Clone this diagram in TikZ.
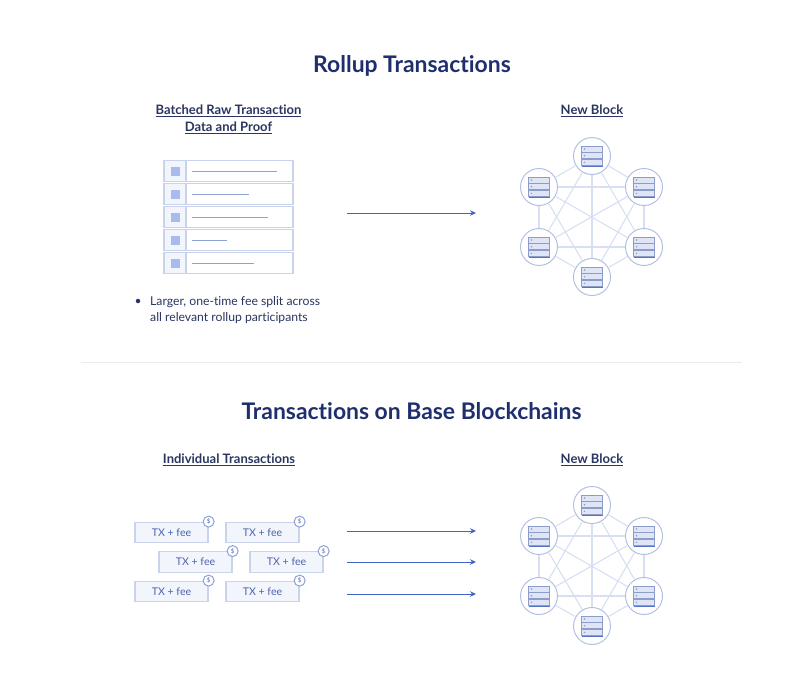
\documentclass[tikz,border=0pt]{standalone}
\usepackage{fontspec}
\setmainfont{Lato}[Ligatures={NoCommon,TeX}]
\usetikzlibrary{arrows.meta,backgrounds}
\definecolor{navy}{HTML}{1F2F6E}
\definecolor{ink}{HTML}{2A3560}
\definecolor{pale}{HTML}{F3F5FC}
\definecolor{edge}{HTML}{C9D3EC}
\definecolor{rim}{HTML}{B3C0E2}
\definecolor{linkc}{HTML}{D8DFF2}
\definecolor{sq}{HTML}{A9BAEC}
\definecolor{bar}{HTML}{8FA2D6}
\definecolor{blue}{HTML}{3F63C6}
\definecolor{txt}{HTML}{4A63AE}
\definecolor{srv}{HTML}{DFE5F5}
\definecolor{srvl}{HTML}{8C9DCB}
\tikzset{
  title/.style={font=\fontsize{22.9}{26}\selectfont\bfseries, text=navy, inner sep=0pt},
  head/.style={font=\fontsize{13}{16}\selectfont\bfseries, text=ink, inner sep=0pt, align=center},
  body/.style={font=\fontsize{12.2}{16}\selectfont, text=ink, inner sep=0pt, align=left, anchor=west},
  hub/.style={circle, draw=rim, line width=1pt, minimum size=37pt, inner sep=0pt},
  link/.style={draw=linkc, line width=1.1pt},
  rowbox/.style={draw=edge, line width=1.1pt},
  txbox/.style={draw=edge, line width=1.3pt, fill=pale, minimum width=73pt, minimum height=20.5pt, inner sep=0pt,
     font=\fontsize{10.6}{12}\selectfont, text=txt},
  coin/.style={circle, draw=bar, line width=1pt, fill=white, minimum size=11pt, inner sep=0pt,
     font=\fontsize{6}{6}\selectfont, text=txt},
  flow/.style={draw=blue, line width=.9pt, -{Stealth[length=6pt,width=5.5pt]}},
  srvbar/.style={draw=srvl, line width=.8pt, fill=srv},
}
\newcommand{\serverat}[2]{%
  \foreach \k in {-10,-3.3,3.4}{
    \draw[srvbar] (#1-10.5,#2+\k) rectangle (#1+10.5,#2+\k+6);
    \fill[srvl] (#1-7.5,#2+\k+3) circle (.8);
  }
  \draw[blue!70!srvl,line width=.9pt] (#1-10.5,#2+10.2) -- (#1+10.5,#2+10.2);
}
\newcommand{\network}[2]{% prefix, y centre
  \node[hub] (#1a) at (592,#2-61) {};
  \node[hub] (#1b) at (644,#2-30) {};
  \node[hub] (#1c) at (644,#2+30) {};
  \node[hub] (#1d) at (592,#2+60) {};
  \node[hub] (#1e) at (539,#2+30) {};
  \node[hub] (#1f) at (539,#2-30) {};
  \foreach \u/\v in {a/b,a/c,a/d,a/e,a/f,b/c,b/d,b/e,b/f,c/d,c/e,c/f,d/e,d/f,e/f}{
    \draw[link] (#1\u) -- (#1\v);
  }
  \serverat{592}{#2-61}
  \serverat{644}{#2-30}
  \serverat{644}{#2+30}
  \serverat{592}{#2+60}
  \serverat{539}{#2+30}
  \serverat{539}{#2-30}
}
\newcommand{\listrow}[3]{% name, y centre, bar end
  \fill[pale] (165,#2-10) rectangle (186,#2+10);
  \node[rowbox, minimum width=129pt, minimum height=21pt, inner sep=0pt] (#1) at (228.5,#2) {};
  \draw[rowbox] (186,#2-10.5) -- (186,#2+10.5);
  \fill[sq] (170.5,#2-4.5) rectangle (179.5,#2+4.5);
  \draw[bar, line width=1.5pt] (192,#2) -- (#3,#2);
}
\newcommand{\txitem}[3]{% name, x, y
  \node[txbox] (#1) at (#2,#3) {TX + fee};
  \node[coin] (#1c) at (#1.north east) {\$};
}
\begin{document}
\begin{tikzpicture}[x=1pt,y=-1pt]
\useasboundingbox (0,0) rectangle (802,681);
\node[title] (t1) at (412,65.5) {Rollup Transactions};
\node[head] (h1) at (228.5,119) {\underline{Batched Raw Transaction}\\[1pt]\underline{Data and Proof}};
\node[head] (h2) at (592,111) {\underline{New Block}};
\listrow{r1}{171.4}{277}
\listrow{r2}{194.4}{249}
\listrow{r3}{217.4}{268}
\listrow{r4}{240.4}{227}
\listrow{r5}{263.4}{254}
\node[circle, fill=ink, minimum size=4.5pt, inner sep=0pt] (bul) at (138,301) {};
\node[body] (b1) at (150,310) {Larger, one-time fee split across\\all relevant rollup participants};
\coordinate (a1s) at (347,213);
\coordinate (a1e) at (476,213);
\draw[flow] (a1s) -- (a1e);
\network{p}{217}
\coordinate (dl) at (81,362.5);
\coordinate (dr) at (742,362.5);
\draw[draw=black!8, line width=1pt] (dl) -- (dr);
\node[title] (t2) at (411.5,411.5) {Transactions on Base Blockchains};
\node[head] (h3) at (229,460) {\underline{Individual Transactions}};
\node[head] (h4) at (592,460) {\underline{New Block}};
\txitem{x1}{171.5}{532.5}
\txitem{x2}{262.5}{532.5}
\txitem{x3}{195.5}{562}
\txitem{x4}{286.5}{562}
\txitem{x5}{171.5}{591.5}
\txitem{x6}{262.5}{591.5}
\foreach \n/\y in {2/531,3/562,4/594}{
  \coordinate (a\n s) at (347,\y);
  \coordinate (a\n e) at (476,\y);
  \draw[flow] (a\n s) -- (a\n e);
}
\network{q}{566}
\end{tikzpicture}
\end{document}
